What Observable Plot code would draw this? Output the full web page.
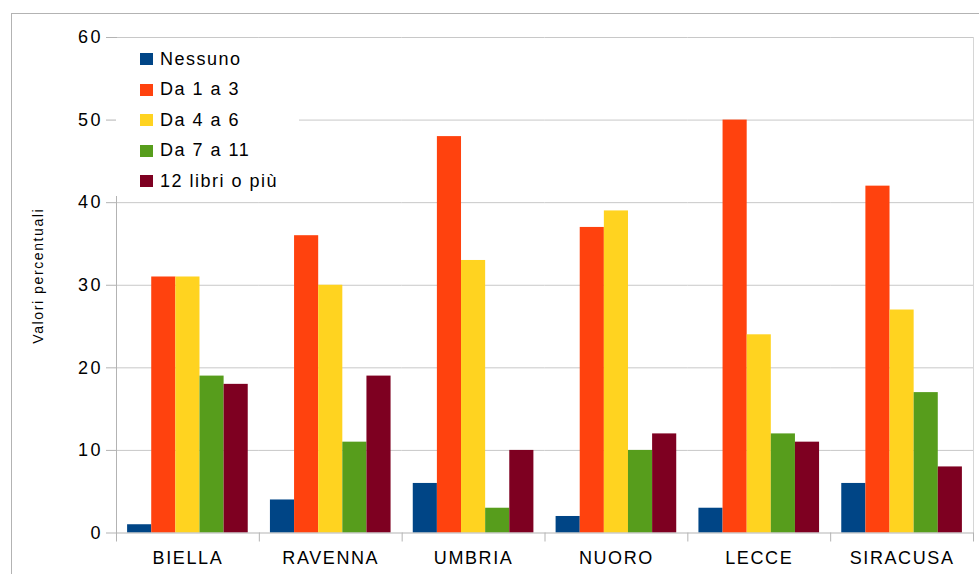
<!DOCTYPE html>
<html>
<head>
<meta charset="utf-8">
<script src="https://cdn.jsdelivr.net/npm/d3@7"></script>
<script src="https://cdn.jsdelivr.net/npm/@observablehq/plot@0.6"></script>
<style>
  html, body { margin: 0; padding: 0; background: #fff; }
  #wrap { position: relative; width: 979px; height: 574px; overflow: hidden;
          font-family: "Liberation Sans", Arial, sans-serif; }
  #outer { position: absolute; left: 11px; top: 13px; width: 1000px; height: 600px;
           border-left: 1px solid #b3b3b3; border-top: 1px solid #b3b3b3; }
  #chart { position: absolute; left: 0; top: 0; }
  #chart g[aria-label="fx-axis tick label"] text { letter-spacing: 1.6px; }
  #chart g[aria-label="y-axis tick label"] text { letter-spacing: 2.5px; }
  #chart g[aria-label="text"] text { letter-spacing: 1.6px; }
  #legend { position: absolute; left: 116px; top: 38px; width: 183px; height: 158px;
            background: #fff; }
  .row { position: absolute; left: 24px; height: 30px; display: flex; align-items: center;
         font-size: 18px; letter-spacing: 1.5px; color: #000; white-space: nowrap; }
  .sw { width: 13px; height: 12px; margin-right: 7px; }
</style>
</head>
<body>
<div id="wrap">
  <div id="outer"></div>
  <div id="chart"></div>
  <div id="legend"></div>
</div>
<script>
// Libri letti negli ultimi 12 mesi, per area (valori percentuali)
const categories = ["BIELLA", "RAVENNA", "UMBRIA", "NUORO", "LECCE", "SIRACUSA"];
const series = ["Nessuno", "Da 1 a 3", "Da 4 a 6", "Da 7 a 11", "12 libri o più"];
const nessuno = [1, 4, 6, 2, 3, 6];
const da1a3 = [31, 36, 48, 37, 50, 42];
const da4a6 = [31, 30, 33, 39, 24, 27];
const da7a11 = [19, 11, 3, 10, 12, 17];
const dodiciPiu = [18, 19, 10, 12, 11, 8];
const colors = ["#004586", "#ff420e", "#ffd320", "#579d1c", "#7e0021"];
const yTicks = [0, 10, 20, 30, 40, 50, 60];
const yTitle = "Valori percentuali";

const seriesValues = [nessuno, da1a3, da4a6, da7a11, dodiciPiu];
const data = categories.flatMap((c, i) =>
  series.map((s, j) => ({category: c, series: s, value: seriesValues[j][i]}))
);

const W = 979, H = 574, mL = 116, mR = 6, mT = 37, mB = 41.5;
const step = (W - mL - mR) / categories.length;
const axisGray = "#b3b3b3";

const chart = Plot.plot({
  width: W,
  height: H,
  marginLeft: mL,
  marginRight: mR,
  marginTop: mT,
  marginBottom: mB,
  style: {fontFamily: '"Liberation Sans", Arial, sans-serif', fontSize: "18px", background: "transparent", color: "#000"},
  fx: {domain: categories, padding: 0, label: null, round: false},
  x: {domain: series, paddingInner: 0, paddingOuter: 0.46, axis: null, round: false},
  y: {domain: [0, 60], label: null},
  color: {domain: series, range: colors},
  marks: [
    Plot.ruleY(yTicks.filter(t => t > 0), {stroke: "#c8c8c8"}),
    Plot.barY(data, {fx: "category", x: "series", y: "value", fill: "series"}),
    Plot.ruleY([0], {stroke: axisGray}),
    Plot.frame({anchor: "left", facet: "super", stroke: axisGray}),
    Plot.frame({anchor: "right", facet: "super", stroke: "#d6d6d6"}),
    Plot.axisY({ticks: yTicks, tickSize: 10, tickPadding: 3.5, label: null, stroke: axisGray, fontSize: 18}),
    Plot.axisFx({anchor: "bottom", tickSize: 0, tickPadding: 18, label: null, fontSize: 18}),
    // separatori tra i gruppi, sotto l'asse orizzontale
    Plot.axisFx({anchor: "bottom", text: null, tickSize: 9, dx: -step / 2, stroke: axisGray, label: null}),
    Plot.axisFx({anchor: "bottom", ticks: [categories[categories.length - 1]], text: null, tickSize: 9, dx: step / 2, stroke: axisGray, label: null}),
    Plot.text([yTitle], {text: d => d, frameAnchor: "left", facet: "super", textAnchor: "middle", rotate: -90, dx: -77.5, dy: -9.5, fontSize: 14})
  ]
});
document.getElementById("chart").appendChild(chart);

// Legenda sovrapposta all'area del grafico
const legend = d3.select("#legend");
series.forEach((s, j) => {
  const row = legend.append("div").attr("class", "row").style("top", (6 + j * 30.5) + "px");
  row.append("div").attr("class", "sw").style("background", colors[j]);
  row.append("span").text(s);
});
</script>
</body>
</html>
